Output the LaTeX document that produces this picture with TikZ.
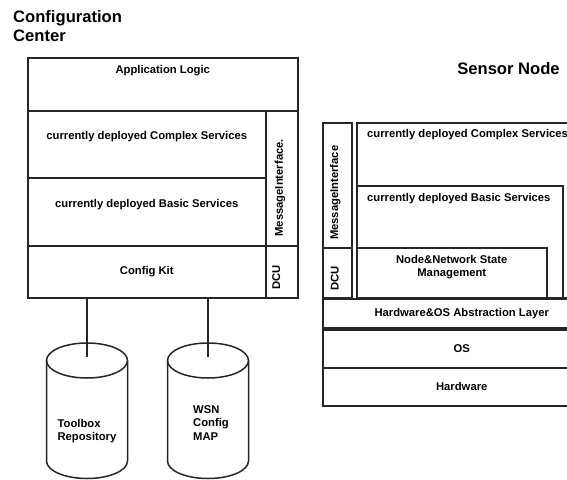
\documentclass[tikz,border=0pt]{standalone}
\usepackage{fontspec}
\setmainfont{Liberation Sans}
\usetikzlibrary{positioning}

\begin{document}
\begin{tikzpicture}[
      x=1pt, y=-1pt,
      font=\fontsize{11.25}{13.3}\selectfont\bfseries,
      layer/.style={draw=black!85, line width=1.5pt, anchor=north west, inner sep=0pt, align=center},
      txt/.style={inner sep=0pt, align=center},
      sidetxt/.style={inner sep=0pt, rotate=90},
      title/.style={inner sep=0pt, align=left, font=\fontsize{16.6}{18.3}\selectfont\bfseries},
      link/.style={draw=black!85, line width=1.5pt}]
    \useasboundingbox (0,0) rectangle (567,479);
    \clip (0,0) rectangle (567,479);
    % configuration center
    \node[title, anchor=north west] (cc) at (13,10.7) {Configuration\\Center};
    \node[layer, minimum width=270pt, minimum height=53pt] (app) at (27,57) {};
    \node[layer, minimum width=238pt, minimum height=67pt] (cplx) at (27,110) {};
    \node[layer, minimum width=238pt, minimum height=68pt] (basic) at (27,177) {};
    \node[layer, minimum width=32pt, minimum height=135pt] (msg) at (265,110) {};
    \node[layer, minimum width=238pt, minimum height=52pt] (kit) at (27,245) {Config Kit};
    \node[layer, minimum width=32pt, minimum height=52pt] (dcu) at (265,245) {};
    \node[txt, below=8pt of app.north] (appT) {Application Logic};
    \node[txt, below=21.5pt of cplx.north] (cplxT) {currently deployed Complex Services};
    \node[txt, below=22pt of basic.north] (basicT) {currently deployed Basic Services};
    \node[sidetxt] (msgT) at ([xshift=-1.7pt, yshift=-9.5pt]msg.center) {MessageInterface.};
    \node[sidetxt] (dcuT) at ([xshift=-5.5pt, yshift=-5.7pt]dcu.center) {DCU};
    % repositories (cylinders)
    \foreach \cx/\nm in {87/toolbox, 208/wsnmap}{
      \coordinate (\nm) at (\cx,360.5);
      \draw[link] (\nm) ellipse [x radius=40.5pt, y radius=17.5pt];
      \draw[link] ([xshift=-40.5pt]\nm) -- ++(0,100.5)
        arc[start angle=180, end angle=360, x radius=40.5pt, y radius=17.5pt] -- ([xshift=40.5pt]\nm);
    }
    \node[txt, align=left, anchor=north] (toolboxT) at ([yshift=-58.5pt]toolbox) {Toolbox\\Repository};
    \node[txt, align=left, anchor=north] (wsnmapT) at ([xshift=3pt, yshift=-45pt]wsnmap) {WSN\\Config\\MAP};
    \draw[link] (toolbox |- kit.south) -- ([yshift=3.5pt]toolbox);
    \draw[link] (wsnmap |- kit.south) -- ([yshift=3.5pt]wsnmap);
    % sensor node
    \node[title, anchor=base] (sn) at (508.5,74.9) {Sensor Node};
    \node[layer, minimum width=29pt, minimum height=125pt] (smsg) at (322,122) {};
    \node[layer, minimum width=29pt, minimum height=50pt] (sdcu) at (322,247) {};
    \node[layer, minimum width=250pt, minimum height=175pt] (scplx) at (356,122) {};
    \node[layer, minimum width=206pt, minimum height=112pt] (sbasic) at (356,185) {};
    \node[layer, minimum width=190pt, minimum height=51pt] (state) at (356,247) {};
    \node[layer, minimum width=278pt, minimum height=29pt] (hal) at (322,298) {Hardware\&OS Abstraction Layer};
    \node[layer, minimum width=278pt, minimum height=38pt] (os) at (322,329) {OS};
    \node[layer, minimum width=278pt, minimum height=38pt] (hw) at (322,367) {Hardware};
    \node[sidetxt] (smsgT) at ([xshift=-2pt, yshift=-7.5pt]smsg.center) {MessageInterface};
    \node[sidetxt] (sdcuT) at ([xshift=-2.5pt, yshift=-6pt]sdcu.center) {DCU};
    \node[txt, below right=7.3pt and 11pt of scplx.north west] (scplxT) {currently deployed Complex Services};
    \node[txt, below right=7.7pt and 11pt of sbasic.north west] (sbasicT) {currently deployed Basic Services};
    \node[txt, below=8pt of state.north] (stateT) {Node\&Network State\\Management};
  \end{tikzpicture}
\end{document}
